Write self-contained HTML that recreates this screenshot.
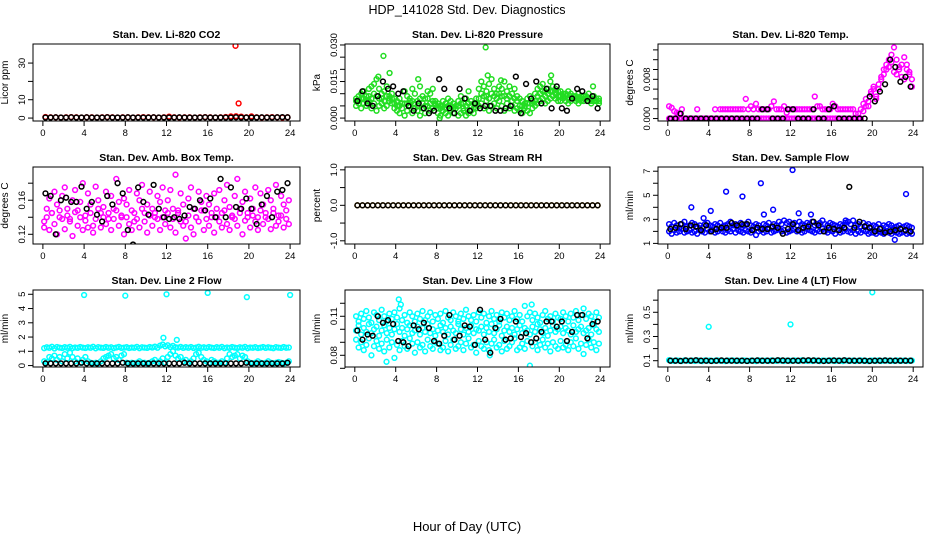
<!DOCTYPE html>
<html><head><meta charset="utf-8"><style>
body{margin:0;background:#fff}
svg{display:block;font-family:"Liberation Sans",sans-serif}
</style></head><body>
<svg id="chart" width="936" height="540" viewBox="0 0 936 540" xmlns="http://www.w3.org/2000/svg">
<rect width="936" height="540" fill="#fff"/>
<text x="467" y="14" font-size="12.5" text-anchor="middle">HDP_141028  Std. Dev. Diagnostics</text>
<text x="467" y="531" font-size="13" text-anchor="middle">Hour of Day (UTC)</text>
</svg>
<script>
// ---------- data ----------
const xTicks=[0,4,8,12,16,20,24];
const co2Red=[0.6,0.4,0.4,0.3,0.4,0.5,0.4,0.3,0.4,0.4,0.3,0.4,0.5,0.4,0.3,0.4,0.4,0.3,0.4,0.5,0.4,0.4,0.3,0.4,0.8,0.4,0.3,0.4,0.4,0.3,0.4,0.5,0.4,0.3,0.4,0.6,0.9,1.0,0.8,0.4,0.9,0.4,0.3,0.4,0.5,0.4,0.3,0.4];
const co2Black=[0.3,0.3,0.4,0.3,0.3,0.4,0.3,0.3,0.4,0.3,0.3,0.3,0.4,0.3,0.3,0.3,0.4,0.3,0.3,0.3,0.3,0.4,0.3,0.3,0.3,0.3,0.4,0.3,0.3,0.3,0.3,0.4,0.3,0.3,0.3,0.3,0.3,0.4,0.3,0.3,0.3,0.3,0.4,0.3,0.3,0.4,0.5,0.4];
const co2OutHours=[18.7,19.0];
const co2OutVals=[39.4,8.0];

const presGreenA=[.008,.009,.010,.011,.009,.012,.013,.014,.016,.012,.010,.011,.013,.009,.010,.008,.007,.008,.006,.011,.009,.008,.012,.010,.007,.013,.009,.008,.011,.010,.012,.007,.006,.005,.007,.006,.008,.007,.006,.005,.007,.009,.006,.008,.011,.007,.006,.008,.012,.015,.013,.011,.014,.016,.012,.010,.013,.012,.015,.011,.013,.010,.012,.009,.008,.007,.006,.008,.009,.007,.010,.012,.013,.014,.011,.012,.015,.013,.012,.011,.011,.010,.010,.011,.010,.009,.009,.010,.009,.009,.009,.010,.008,.009,.008,.008];
const presGreenB=[.005,.006,.004,.006,.005,.007,.004,.006,.003,.005,.006,.004,.005,.007,.006,.004,.003,.002,.004,.001,.003,.005,.002,.004,.003,.001,.004,.002,.005,.003,.004,.006,.002,.001,.003,.002,.001,.003,.002,.004,.001,.002,.003,.001,.002,.003,.002,.004,.005,.006,.004,.007,.003,.005,.006,.004,.007,.005,.003,.006,.004,.005,.003,.004,.003,.002,.004,.003,.002,.004,.005,.006,.007,.008,.006,.007,.008,.009,.008,.007,.007,.008,.007,.006,.007,.008,.007,.006,.007,.007,.008,.007,.006,.007,.007,.006];
const presGreenC=[.007,.007,.008,.008,.007,.009,.008,.010,.009,.008,.008,.007,.009,.008,.008,.006,.005,.005,.006,.006,.006,.007,.007,.006,.005,.008,.006,.005,.008,.006,.007,.005,.004,.004,.005,.004,.005,.005,.004,.004,.005,.006,.004,.005,.006,.005,.004,.006,.008,.010,.009,.009,.008,.010,.009,.008,.010,.009,.009,.008,.009,.007,.008,.007,.005,.005,.005,.006,.006,.006,.007,.009,.010,.011,.009,.010,.011,.011,.010,.009,.009,.009,.009,.008,.009,.009,.008,.008,.008,.008,.008,.008,.007,.008,.007,.007];
const presOutHours=[2.8,12.8,3.4,2.3,13.0,19.2,6.2,8.3,14.3,23.3];
const presOutVals=[.0255,.029,.0185,.017,.0175,.0175,.016,.000,.0155,.013];
const presBlack=[.007,.011,.006,.005,.009,.015,.012,.013,.010,.011,.005,.003,.006,.004,.002,.003,.016,.012,.004,.002,.012,.008,.003,.006,.004,.005,.005,.003,.003,.004,.005,.017,.002,.014,.008,.015,.006,.012,.004,.013,.004,.003,.008,.012,.011,.007,.009,.004];

const tempMagA=[0,0,0,0,0,0,0,0,0,0,0,0,0,0,0,0,0,0,0,0,0,0,0,0,0,0,0,0,0,0,0,0,0,0,0,0,0,0,0,0,0,0,0,0,0,0,0,0,0,0,0,0,0,0,0,0,0,0,0,0,0,0,0,0,0,0,0,0,0,0,0,0,0,0,0,0,.0015,.0025,.0035,.0050,.0065,.0040,.0060,.0080,.0090,.0100,.0105,.0115,.0095,.0090,.0100,.0085,.0080,.0110,.0090,.0065];
const tempMagB=[.0025,.0022,.0015,.0012,.001,.0019,0,0,0,0,0,.0019,0,0,0,0,0,0,.0019,0,.0019,.0019,.0019,.0019,.0019,.0019,.0019,.0019,.0019,.0019,.0040,.0019,.0025,.0019,.0030,.0019,.0019,.0019,.0019,.0019,.0025,.0035,.0019,.0019,.0019,.0025,.0012,.0019,.0019,.0019,.0019,.0019,.0019,.0019,.0019,.0019,.0019,.0045,.0025,.0025,.0019,.0019,.0019,.0019,.0030,.0025,.0019,.0019,.0019,.0019,.0019,.0019,.0019,.0010,.0010,.0019,.0030,.0040,.0025,.0055,.0060,.0045,.0070,.0085,.0100,.0110,.0120,.0130,.0145,.0120,.0105,.0110,.0125,.0100,.0095,.0080];
const tempBlack=[0,0,.001,0,0,0,0,0,0,0,0,0,0,0,0,0,0,0,.0019,.0019,0,0,0,.0019,.0019,0,0,0,.0019,0,0,.0019,.0025,0,0,0,0,0,0,.0045,.0035,.0055,.007,.012,.0105,.0075,.0085,.0065];

const ambMagA=[.135,.150,.162,.145,.170,.155,.140,.165,.175,.150,.138,.160,.172,.148,.158,.180,.142,.168,.155,.130,.176,.160,.145,.152,.170,.138,.165,.150,.185,.158,.140,.162,.155,.172,.148,.135,.168,.160,.178,.145,.155,.170,.150,.140,.165,.158,.175,.148,.160,.172,.150,.190,.145,.168,.155,.135,.162,.175,.150,.140,.170,.158,.148,.165,.155,.140,.168,.150,.172,.145,.160,.178,.152,.140,.165,.185,.150,.158,.170,.145,.162,.150,.175,.140,.168,.155,.145,.172,.160,.150,.178,.142,.165,.155,.148,.160];
const ambMagB=[.128,.140,.125,.145,.132,.120,.148,.138,.126,.142,.135,.118,.146,.130,.140,.125,.136,.128,.145,.122,.138,.150,.128,.140,.132,.145,.125,.138,.148,.130,.142,.120,.140,.132,.125,.145,.138,.128,.150,.135,.122,.142,.130,.145,.138,.125,.140,.132,.145,.128,.138,.122,.148,.135,.130,.115,.142,.128,.120,.140,.135,.148,.125,.138,.130,.145,.122,.140,.135,.128,.148,.132,.125,.142,.138,.130,.145,.120,.136,.140,.128,.142,.135,.125,.148,.132,.140,.138,.126,.145,.130,.135,.142,.128,.138,.132];
const ambBlack=[.168,.165,.120,.160,.163,.158,.158,.176,.150,.158,.143,.135,.165,.155,.180,.168,.125,.108,.175,.158,.143,.178,.150,.140,.138,.140,.138,.142,.152,.150,.160,.148,.162,.140,.185,.140,.175,.152,.150,.162,.150,.132,.155,.165,.140,.170,.172,.180];

const rhOrange=[0,0,0,0,0,0,0,0,0,0,0,0,0,0,0,0,0,0,0,0,0,0,0,0,0,0,0,0,0,0,0,0,0,0,0,0,0,0,0,0,0,0,0,0,0,0,0,0];
const rhBlack=[0,0,0,0,0,0,0,0,0,0,0,0,0,0,0,0,0,0,0,0,0,0,0,0,0,0,0,0,0,0,0,0,0,0,0,0,0,0,0,0,0,0,0,0,0,0,0,0];

const flowBlueA=[2.6,2.4,2.7,2.5,2.3,2.6,2.8,2.4,2.5,2.7,2.6,2.4,2.5,2.3,2.6,2.7,2.5,2.4,2.6,2.5,2.7,2.4,2.5,2.6,2.8,2.5,2.6,2.4,2.7,2.5,2.6,2.8,2.5,2.4,2.6,2.5,2.3,2.6,2.5,2.7,2.4,2.6,2.5,2.8,2.6,2.9,2.7,2.8,2.6,2.7,2.5,2.8,2.6,2.5,2.7,2.6,2.8,2.5,2.6,2.7,2.9,2.6,2.5,2.7,2.6,2.5,2.4,2.6,2.5,2.7,2.8,2.6,2.9,2.5,2.6,2.4,2.7,2.5,2.6,2.4,2.5,2.4,2.6,2.3,2.5,2.4,2.6,2.5,2.3,2.4,2.5,2.3,2.4,2.5,2.4,2.3];
const flowBlueB=[2.0,1.8,2.1,1.9,2.0,2.2,1.9,2.0,2.1,1.9,2.0,1.8,2.1,2.0,1.9,2.2,2.0,2.1,1.9,2.0,2.2,2.0,1.9,2.1,2.0,2.2,1.9,2.1,2.0,1.9,2.1,2.0,1.9,2.1,1.7,2.0,2.1,1.9,2.0,2.2,1.9,2.0,2.1,2.2,2.0,2.1,1.9,2.0,2.1,2.2,2.0,2.1,1.9,2.0,2.2,2.1,2.0,1.9,2.1,2.0,2.2,2.0,1.9,2.1,2.0,1.8,2.1,1.9,2.0,2.2,2.0,1.9,2.1,1.8,2.0,1.9,2.1,2.0,1.8,1.9,1.9,1.8,2.0,1.9,1.8,2.0,1.9,1.8,2.0,1.9,1.8,1.9,2.0,1.8,1.9,1.8];
const flowOutHours=[2.3,4.2,5.7,7.3,9.1,9.4,10.3,12.2,12.8,14.0,23.3,22.2,3.5,17.4];
const flowOutVals=[4.0,3.7,5.3,4.9,6.0,3.4,3.8,7.1,3.5,3.4,5.1,1.3,3.1,2.9];
const flowBlack=[2.2,2.3,2.6,2.2,2.5,2.4,2.1,2.5,2.0,2.2,2.3,2.3,2.7,2.5,2.6,2.6,2.1,2.3,2.2,2.2,2.4,2.3,1.8,2.2,2.6,2.1,2.3,2.4,2.8,2.5,2.0,2.3,2.2,2.1,2.3,5.7,2.3,2.8,2.4,2.3,2.0,2.2,1.9,2.0,2.1,2.2,2.1,2.0];

const l2CyanA=[1.22,1.28,1.25,1.32,1.20,1.30,1.26,1.23,1.29,1.25,1.31,1.22,1.27,1.24,1.30,1.26,1.23,1.28,1.25,1.32,1.21,1.29,1.26,1.24,1.30,1.25,1.28,1.22,1.27,1.31,1.24,1.26,1.29,1.23,1.27,1.25,1.31,1.22,1.28,1.26,1.24,1.30,1.27,1.33,1.25,1.40,1.48,1.35,1.42,1.30,1.38,1.28,1.26,1.31,1.24,1.29,1.25,1.30,1.23,1.27,1.32,1.25,1.28,1.24,1.30,1.26,1.23,1.29,1.25,1.31,1.22,1.27,1.24,1.30,1.26,1.23,1.28,1.25,1.31,1.22,1.27,1.25,1.29,1.23,1.26,1.30,1.24,1.28,1.25,1.22,1.29,1.26,1.24,1.30,1.25,1.27];
const l2CyanB=[0.3,0.25,0.6,0.5,0.7,0.4,0.6,0.3,0.8,0.5,0.9,0.6,0.3,0.5,0.2,0.4,0.6,0.3,0.2,0.15,0.2,0.15,0.3,0.5,0.6,0.7,0.8,0.5,0.6,0.4,0.7,0.8,0.2,0.15,0.2,0.15,0.2,0.3,0.2,0.2,0.15,0.2,0.3,0.4,0.2,0.3,0.5,0.2,0.6,0.8,1.0,0.7,0.5,0.6,0.3,0.4,0.2,0.3,0.5,0.8,0.9,0.6,0.4,0.3,0.2,0.4,0.3,0.2,0.2,0.3,0.2,0.5,0.8,0.6,0.7,0.8,0.5,0.7,0.6,0.3,0.2,0.15,0.2,0.3,0.2,0.15,0.2,0.3,0.2,0.15,0.2,0.25,0.2,0.15,0.2,0.3];
const l2OutHours=[4,8,12,16,19.8,24,11.7,13];
const l2OutVals=[4.95,4.9,5.0,5.1,4.8,4.95,1.95,1.8];
const l2Black=[0.15,0.15,0.15,0.15,0.15,0.15,0.15,0.2,0.15,0.15,0.15,0.15,0.15,0.15,0.15,0.2,0.15,0.15,0.15,0.15,0.15,0.15,0.15,0.15,0.15,0.15,0.15,0.2,0.15,0.15,0.15,0.15,0.15,0.15,0.15,0.15,0.15,0.15,0.15,0.2,0.15,0.15,0.15,0.15,0.15,0.15,0.15,0.2];

const l3CyanA=[.110,.106,.112,.108,.114,.109,.105,.113,.111,.107,.115,.110,.106,.112,.108,.113,.109,.116,.107,.111,.105,.113,.110,.106,.112,.108,.114,.107,.110,.113,.106,.111,.108,.112,.105,.114,.109,.107,.113,.110,.106,.112,.108,.115,.110,.107,.111,.106,.113,.109,.112,.105,.110,.114,.108,.111,.106,.113,.109,.112,.107,.110,.114,.108,.111,.106,.118,.110,.113,.107,.112,.109,.105,.111,.114,.108,.110,.106,.112,.109,.108,.113,.110,.106,.112,.109,.114,.107,.111,.116,.108,.112,.110,.106,.113,.109];
const l3CyanB=[.099,.103,.096,.101,.098,.104,.097,.100,.102,.095,.099,.103,.097,.101,.096,.100,.104,.098,.101,.095,.100,.103,.097,.099,.102,.096,.101,.098,.104,.097,.100,.095,.099,.103,.098,.101,.096,.102,.099,.097,.104,.100,.096,.101,.098,.103,.097,.100,.099,.102,.096,.101,.098,.104,.097,.100,.103,.095,.099,.102,.098,.101,.096,.100,.103,.097,.101,.099,.096,.102,.098,.104,.100,.097,.101,.095,.099,.103,.098,.100,.102,.097,.101,.099,.096,.103,.098,.100,.102,.097,.099,.101,.096,.103,.100,.098];
const l3CyanC=[.092,.086,.090,.084,.088,.093,.080,.087,.091,.085,.089,.083,.092,.086,.090,.078,.088,.084,.091,.087,.085,.093,.089,.082,.090,.086,.088,.083,.092,.087,.085,.090,.089,.084,.086,.091,.083,.088,.092,.085,.087,.090,.084,.089,.093,.086,.088,.082,.091,.087,.085,.090,.084,.089,.092,.086,.088,.083,.091,.085,.087,.090,.093,.084,.086,.089,.085,.091,.072,.087,.090,.084,.088,.092,.086,.089,.083,.090,.087,.085,.091,.086,.088,.084,.090,.087,.093,.085,.089,.081,.088,.092,.086,.090,.084,.089];
const l3OutHours=[4.3,4.5,17.3,17.0,3.1,13.2];
const l3OutVals=[.123,.119,.119,.067,.075,.080];
const l3Black=[.099,.092,.096,.095,.110,.105,.107,.104,.091,.090,.087,.103,.100,.105,.101,.091,.089,.095,.111,.092,.095,.103,.102,.088,.115,.092,.082,.101,.108,.092,.093,.106,.094,.097,.090,.093,.098,.106,.106,.102,.106,.091,.098,.111,.111,.093,.104,.106];

const l4Cyan=[.105,.100,.098,.102,.100,.097,.103,.100,.099,.101,.098,.102,.100,.097,.103,.100,.101,.098,.100,.102,.099,.100,.097,.101,.100,.103,.098,.100,.099,.102,.100,.098,.101,.100,.097,.102,.100,.099,.101,.098,.103,.100,.099,.102,.100,.098,.101,.100,.099,.102,.100,.098,.104,.100,.099,.101,.098,.102,.100,.097,.101,.100,.099,.102,.100,.098,.101,.100,.097,.103,.100,.099,.101,.098,.100,.102,.099,.100,.097,.101,.100,.099,.102,.098,.100,.101,.099,.100,.098,.102,.100,.099,.101,.098,.100,.101];
const l4OutHours=[4,12,20];
const l4OutVals=[0.38,0.40,0.665];
const l4Black=[.100,.100,.098,.102,.100,.104,.100,.100,.098,.100,.102,.100,.100,.100,.100,.098,.100,.102,.100,.100,.100,.104,.102,.100,.100,.100,.102,.104,.102,.100,.098,.100,.102,.100,.104,.100,.100,.100,.100,.098,.100,.100,.102,.100,.100,.100,.100,.100];

// ---------- drawing ----------
const NS="http://www.w3.org/2000/svg";
const svg=document.getElementById('chart');
function mk(tag,attrs,parent){const e=document.createElementNS(NS,tag);for(const k in attrs)e.setAttribute(k,attrs[k]);(parent||svg).appendChild(e);return e;}
const COLS=[[33,300],[345,610],[658,923]];
const ROWS=[[44,121],[167,244],[290,367]];
const XLIM=[-0.96,24.96];

function drawPanel(p){
  const [L,R]=COLS[p.col],[T,B]=ROWS[p.row];
  const g=mk('g',{});
  
  
  const sx=h=>L+(h-XLIM[0])/(XLIM[1]-XLIM[0])*(R-L);
  const sy=v=>B-(v-p.ylim[0])/(p.ylim[1]-p.ylim[0])*(B-T);
  const title=mk('text',{x:(L+R)/2,y:T-6,'font-size':10.5,'font-weight':'bold','text-anchor':'middle'},g);
  title.textContent=p.title;
  
  
  const yl=mk('text',{transform:`translate(${L-25},${(T+B)/2}) rotate(-90)`,'font-size':10,'text-anchor':'middle'},g);
  yl.textContent=p.ylab;
  
  
  const xa=mk('g',{},g);
  
  
  mk('line',{x1:sx(xTicks[0]),x2:sx(xTicks[xTicks.length-1]),y1:B,y2:B,stroke:'#000'},xa);
  xTicks.forEach(t=>{
    mk('line',{x1:sx(t),x2:sx(t),y1:B,y2:B+5,stroke:'#000'},xa);
    const tx=mk('text',{x:sx(t),y:B+15,'font-size':9.5,'text-anchor':'middle'},xa);
    tx.textContent=t;
  });
  const ya=mk('g',{},g);
  
  
  mk('line',{x1:L,x2:L,y1:sy(p.yticks[0]),y2:sy(p.yticks[p.yticks.length-1]),stroke:'#000'},ya);
  p.yticks.forEach((t,i)=>{
    mk('line',{x1:L-5,x2:L,y1:sy(t),y2:sy(t),stroke:'#000'},ya);
    if(p.ylabels[i]!==''){
      const ty=mk('text',{transform:`translate(${L-8},${sy(t)}) rotate(-90)`,'font-size':9.5,'text-anchor':'middle'},ya);
      ty.textContent=p.ylabels[i];
    }
  });
  const clip='clip-'+p.name;
  const cp=mk('clipPath',{id:clip},g);
  mk('rect',{x:L,y:T,width:R-L,height:B-T},cp);
  const pts=mk('g',{'clip-path':`url(#${clip})`},g);
  
  
  p.series.forEach(s=>{
    const n=s.v.length;
    s.v.forEach((v,i)=>{
      const h=s.h?s.h[i]:(i+0.5)*24/n;
      const c=mk('circle',{cx:sx(h),cy:sy(v),r:2.4,fill:'none',stroke:s.c,'stroke-width':1.5},pts);
      
      
    });
  });
  const box=mk('rect',{x:L,y:T,width:R-L,height:B-T,fill:'none',stroke:'#000','stroke-width':1},g);
  
  
}

const GRN='#22dd22',MAG='#ff00ff',BLU='#0000ff',CYN='#00ffff',RED='#ff0000',ORG='#ffa500',BLK='#000';
const panels=[
 {name:'co2',col:0,row:0,title:'Stan. Dev. Li-820 CO2',ylab:'Licor ppm',ylim:[-1.6,40.4],yticks:[0,10,20,30],ylabels:['0','10','','30'],
  series:[{v:co2Red,c:RED},{v:co2Black,c:BLK},{h:co2OutHours,v:co2OutVals,c:RED}]},
 {name:'pressure',col:1,row:0,title:'Stan. Dev. Li-820 Pressure',ylab:'kPa',ylim:[-0.0012,0.0304],yticks:[0,.005,.010,.015,.020,.025,.030],ylabels:['0.000','','','0.015','','','0.030'],
  series:[{v:presGreenA,c:GRN},{v:presGreenB,c:GRN},{v:presGreenC,c:GRN},{h:presOutHours,v:presOutVals,c:GRN},{v:presBlack,c:BLK}]},
 {name:'temp',col:2,row:0,title:'Stan. Dev. Li-820 Temp.',ylab:'degrees C',ylim:[-0.0005,0.0152],yticks:[0,.002,.004,.006,.008,.010,.012,.014],ylabels:['0.000','','','','0.008','','',''],
  series:[{v:tempMagA,c:MAG},{v:tempMagB,c:MAG},{v:tempBlack,c:BLK}]},
 {name:'amb-box',col:0,row:1,title:'Stan. Dev. Amb. Box Temp.',ylab:'degrees C',ylim:[0.1086,0.199],yticks:[.12,.14,.16,.18],ylabels:['0.12','','0.16',''],
  series:[{v:ambMagA,c:MAG},{v:ambMagB,c:MAG},{v:ambBlack,c:BLK}]},
 {name:'gas-rh',col:1,row:1,title:'Stan. Dev. Gas Stream RH',ylab:'percent',ylim:[-1.09,1.08],yticks:[-1,-0.5,0,0.5,1],ylabels:['-1.0','','0.0','','1.0'],
  series:[{v:rhOrange,c:ORG},{v:rhBlack,c:BLK}]},
 {name:'sample-flow',col:2,row:1,title:'Stan. Dev. Sample Flow',ylab:'ml/min',ylim:[0.95,7.35],yticks:[1,2,3,4,5,6,7],ylabels:['1','','3','','5','','7'],
  series:[{v:flowBlueA,c:BLU},{v:flowBlueB,c:BLU},{h:flowOutHours,v:flowOutVals,c:BLU},{v:flowBlack,c:BLK}]},
 {name:'line2',col:0,row:2,title:'Stan. Dev. Line 2 Flow',ylab:'ml/min',ylim:[-0.1,5.3],yticks:[0,1,2,3,4,5],ylabels:['0','1','2','3','4','5'],
  series:[{v:l2CyanA,c:CYN},{v:l2CyanB,c:CYN},{h:l2OutHours,v:l2OutVals,c:CYN},{v:l2Black,c:BLK}]},
 {name:'line3',col:1,row:2,title:'Stan. Dev. Line 3 Flow',ylab:'ml/min',ylim:[0.071,0.1302],yticks:[.07,.08,.09,.10,.11,.12],ylabels:['','0.08','','','0.11',''],
  series:[{v:l3CyanA,c:CYN},{v:l3CyanB,c:CYN},{v:l3CyanC,c:CYN},{h:l3OutHours,v:l3OutVals,c:CYN},{v:l3Black,c:BLK}]},
 {name:'line4',col:2,row:2,title:'Stan. Dev. Line 4 (LT) Flow',ylab:'ml/min',ylim:[0.048,0.684],yticks:[.1,.2,.3,.4,.5,.6],ylabels:['0.1','','0.3','','0.5',''],
  series:[{v:l4Cyan,c:CYN},{h:l4OutHours,v:l4OutVals,c:CYN},{v:l4Black,c:BLK}]}
];
panels.forEach(drawPanel);
</script>
</body></html>
